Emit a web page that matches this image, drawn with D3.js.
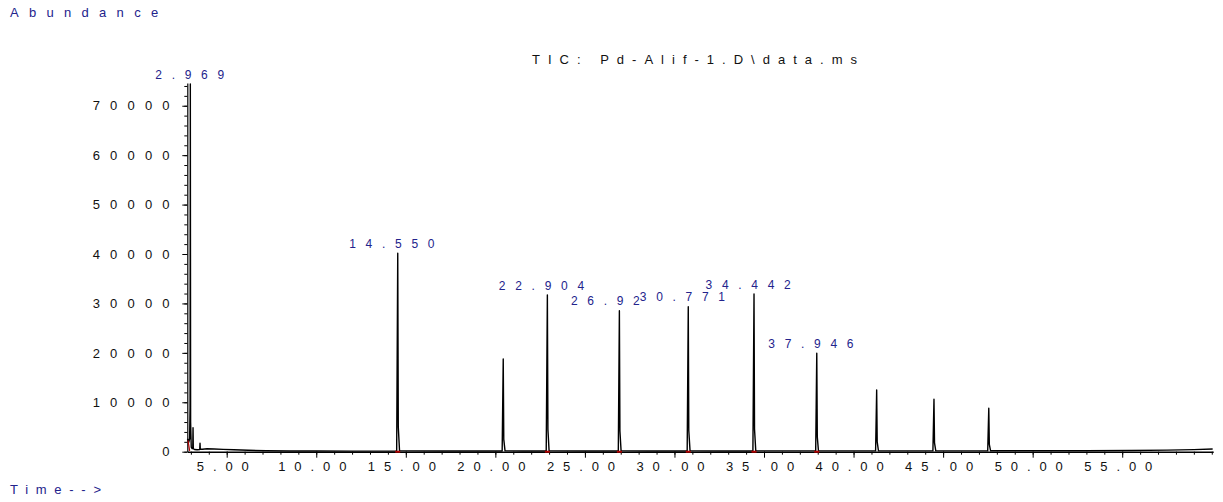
<!DOCTYPE html>
<html>
<head>
<meta charset="utf-8">
<script src="https://cdn.jsdelivr.net/npm/d3@7"></script>
<style>
  body { margin: 0; background: #fff; }
  text { font-family: "Liberation Sans", Arial, sans-serif; }
</style>
</head>
<body>
<div id="chart"></div>
<script>
// chromatogram trace (minutes / counts)
const traceTime = [
  2.80, 2.84, 2.88, 2.93, 2.955, 2.969, 2.985, 3.02, 3.07, 3.105, 3.12, 3.135, 3.20, 3.35,
  3.495, 3.51, 3.525, 3.65, 3.90, 4.30, 4.80, 5.40, 6.20, 7.20, 8.50, 10.0, 12.0,
  14.49, 14.55, 14.58, 14.65, 17.0,
  20.38, 20.44, 20.47, 20.54, 21.5,
  22.84, 22.904, 22.935, 23.00, 25.0,
  26.865, 26.925, 26.955, 27.02, 28.5,
  30.71, 30.771, 30.80, 30.87, 32.5,
  34.38, 34.442, 34.47, 34.54, 36.0,
  37.885, 37.946, 37.975, 38.04, 39.5,
  41.23, 41.29, 41.32, 41.39, 43.0,
  44.43, 44.49, 44.52, 44.59, 46.0,
  47.49, 47.55, 47.58, 47.65,
  50.0, 53.0, 55.5, 57.5, 59.0, 60.05
];
const traceAbund = [
  2300, 2500, 1900, 2600, 9000, 74400, 6000, 900, 600, 700, 4860, 600, 450, 400,
  450, 1700, 500, 500, 600, 550, 480, 380, 280, 200, 150, 130, 120,
  120, 40160, 5000, 180, 140,
  130, 18770, 2500, 160, 150,
  150, 31720, 4500, 170, 150,
  150, 28540, 4200, 170, 150,
  150, 29350, 4300, 170, 150,
  150, 31920, 4600, 170, 160,
  160, 19920, 3000, 170, 160,
  160, 12490, 2000, 170, 160,
  160, 10610, 1800, 170, 170,
  170, 8790, 1500, 180,
  180, 200, 250, 320, 420, 550
];

// labelled peaks
const peakTimes = [2.969, 14.55, 22.904, 26.925, 30.771, 34.442, 37.946];
const peakLabels = ["2.969", "14.550", "22.904", "26.92", "30.771", "34.442", "37.946"];

// axis ticks
const xMajor = [5, 10, 15, 20, 25, 30, 35, 40, 45, 50, 55];
const xTickLabels = ["5.00", "10.00", "15.00", "20.00", "25.00", "30.00", "35.00", "40.00", "45.00", "50.00", "55.00"];
const xMinor = d3.range(3, 61, 1);
const yMajor = [0, 10000, 20000, 30000, 40000, 50000, 60000, 70000];
const yMinor = d3.range(0, 74001, 2000);

const blue = "#23238c";
const W = 1223, H = 502;
const margin = {top: 83, right: 9.8, bottom: 50.3, left: 187.3};
const width = W - margin.left - margin.right;
const height = H - margin.top - margin.bottom;

const svg = d3.select("#chart").append("svg")
  .attr("width", W)
  .attr("height", H);

svg.append("text")
  .attr("x", 10).attr("y", 16.7)
  .style("font-size", "13px").style("letter-spacing", "10.3px")
  .attr("fill", blue)
  .text("Abundance");

svg.append("text")
  .attr("x", 10).attr("y", 494)
  .style("font-size", "13px")
  .attr("textLength", 91).attr("lengthAdjust", "spacing")
  .attr("fill", blue)
  .text("Time-->");

svg.append("text")
  .attr("x", 532).attr("y", 63.5)
  .style("font-size", "13px")
  .attr("textLength", 325).attr("lengthAdjust", "spacing")
  .attr("fill", "#111")
  .text("TIC: Pd-Alif-1.D\\data.ms");

const g = svg.append("g")
  .attr("transform", "translate(" + margin.left + "," + margin.top + ")");

const x = d3.scaleLinear().domain([2.8, 60.08]).range([0, width]);
const y = d3.scaleLinear().domain([0, 74600]).range([height, 0]);

// minor ticks
g.append("g")
  .attr("transform", "translate(0," + height + ")")
  .call(d3.axisBottom(x).tickValues(xMinor).tickSize(3).tickSizeOuter(0).tickFormat(""))
  .call(a => a.select(".domain").remove());
g.append("g")
  .call(d3.axisLeft(y).tickValues(yMinor).tickSize(3).tickSizeOuter(0).tickFormat(""))
  .call(a => a.select(".domain").remove());

// x axis
const xAxis = g.append("g")
  .attr("transform", "translate(0," + height + ")")
  .call(d3.axisBottom(x).tickValues(xMajor).tickSize(6).tickSizeOuter(0)
    .tickFormat((d, i) => xTickLabels[i]));
xAxis.select(".domain").attr("stroke-width", 1.5);
xAxis.selectAll("text")
  .attr("y", 19).attr("dy", 0)
  .attr("fill", "#111")
  .style("font-size", "13px").style("letter-spacing", "8.9px");

// y axis
const yAxis = g.append("g")
  .call(d3.axisLeft(y).tickValues(yMajor).tickSize(5).tickSizeOuter(0).tickFormat(d3.format("d")));
yAxis.select(".domain").attr("stroke-width", 1.2);
yAxis.selectAll("text")
  .attr("x", -7.5)
  .attr("fill", "#111")
  .style("font-size", "13px").style("letter-spacing", "10.2px");
svg.selectAll(".tick line").attr("stroke", "#000");

// trace
const line = d3.line()
  .x((d, i) => x(traceTime[i]))
  .y(d => y(d));

g.append("path")
  .datum(traceAbund)
  .attr("fill", "none")
  .attr("stroke", "#000")
  .attr("stroke-width", 1.4)
  .attr("stroke-linejoin", "round")
  .attr("d", line);

// integration marks
g.append("line")
  .attr("x1", x(2.84)).attr("y1", y(2300))
  .attr("x2", x(2.93)).attr("y2", y(150))
  .attr("stroke", "#b00000").attr("stroke-width", 1.2);
g.selectAll(".mark")
  .data(peakTimes.slice(1))
  .enter()
  .append("line")
  .attr("x1", d => x(d) - 2.5).attr("x2", d => x(d) + 2.5)
  .attr("y1", y(0)).attr("y2", y(0))
  .attr("stroke", "#b00000").attr("stroke-width", 2);

// peak labels
g.selectAll(".plabel")
  .data(peakTimes)
  .enter()
  .append("text")
  .attr("x", (d, i) => x(d) + (d.toFixed(3).length === 6 ? -48.5 : -35))
  .attr("y", d => y(traceAbund[traceTime.indexOf(d)]) - 5.3)
  .attr("fill", blue)
  .style("font-size", "12px").style("letter-spacing", "9.7px")
  .text((d, i) => peakLabels[i]);
</script>
</body>
</html>
